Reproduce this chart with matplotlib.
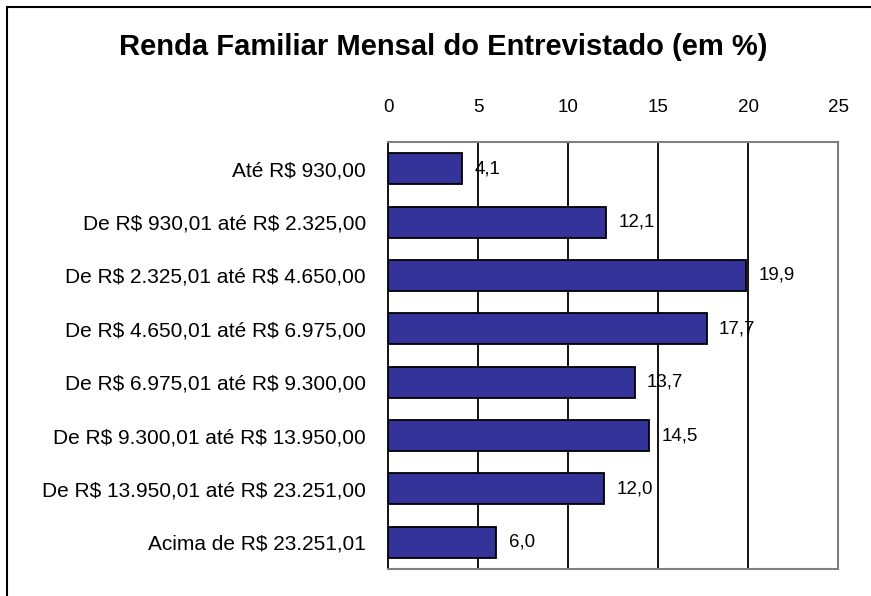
import matplotlib
matplotlib.use("Agg")
import matplotlib.pyplot as plt
from matplotlib.patches import Rectangle

categories = [
    "Até R$ 930,00",
    "De R$ 930,01 até R$ 2.325,00",
    "De R$ 2.325,01 até R$ 4.650,00",
    "De R$ 4.650,01 até R$ 6.975,00",
    "De R$ 6.975,01 até R$ 9.300,00",
    "De R$ 9.300,01 até R$ 13.950,00",
    "De R$ 13.950,01 até R$ 23.251,00",
    "Acima de R$ 23.251,01",
]
values = [4.1, 12.1, 19.9, 17.7, 13.7, 14.5, 12.0, 6.0]
value_labels = ["4,1", "12,1", "19,9", "17,7", "13,7", "14,5", "12,0", "6,0"]
xticks = [0, 5, 10, 15, 20, 25]
title = "Renda Familiar Mensal do Entrevistado (em %)"

plt.rcParams['font.family'] = ['Liberation Sans', 'DejaVu Sans']
plt.rcParams['text.parse_math'] = False

fig = plt.figure(figsize=(8.71, 5.96), dpi=100)
fig.patches.append(Rectangle((7/871, -0.1), 1.2, 1 - 7/596 + 0.1, transform=fig.transFigure,
                             fill=False, edgecolor='black', linewidth=1.5))
ax = fig.add_axes([388/871, 1 - 569/596, 450/871, (569 - 142)/596])

y = list(range(len(categories)))
ax.barh(y, values, height=0.58, color='#333399', edgecolor='black', linewidth=1.3, zorder=3)
ax.set_ylim(len(categories) - 0.5, -0.5)
ax.set_xlim(0, 25)
ax.xaxis.tick_top()
ax.set_xticks(xticks)
ax.set_xticklabels([str(t) for t in xticks], fontsize=13.5)
ax.tick_params(axis='x', length=0, pad=19)
ax.set_yticks(y)
ax.set_yticklabels(categories, fontsize=15)
ax.tick_params(axis='y', length=0, pad=16)
for t in xticks[1:-1]:
    ax.axvline(t, color='black', linewidth=1.3, zorder=1)
for s in ['top', 'right', 'bottom']:
    ax.spines[s].set_color('#808080')
    ax.spines[s].set_linewidth(1.5)
ax.spines['left'].set_color('black')
ax.spines['left'].set_linewidth(1.3)

for yi, v, lab in zip(y, values, value_labels):
    ax.annotate(lab, (v, yi), xytext=(9, 0), textcoords='offset points',
                va='center', ha='left', fontsize=13.5, zorder=4)

fig.text(443/871, 1 - 47/596, title, ha='center', va='center', fontsize=21, fontweight='bold')

fig.savefig("out.png", dpi=100)
